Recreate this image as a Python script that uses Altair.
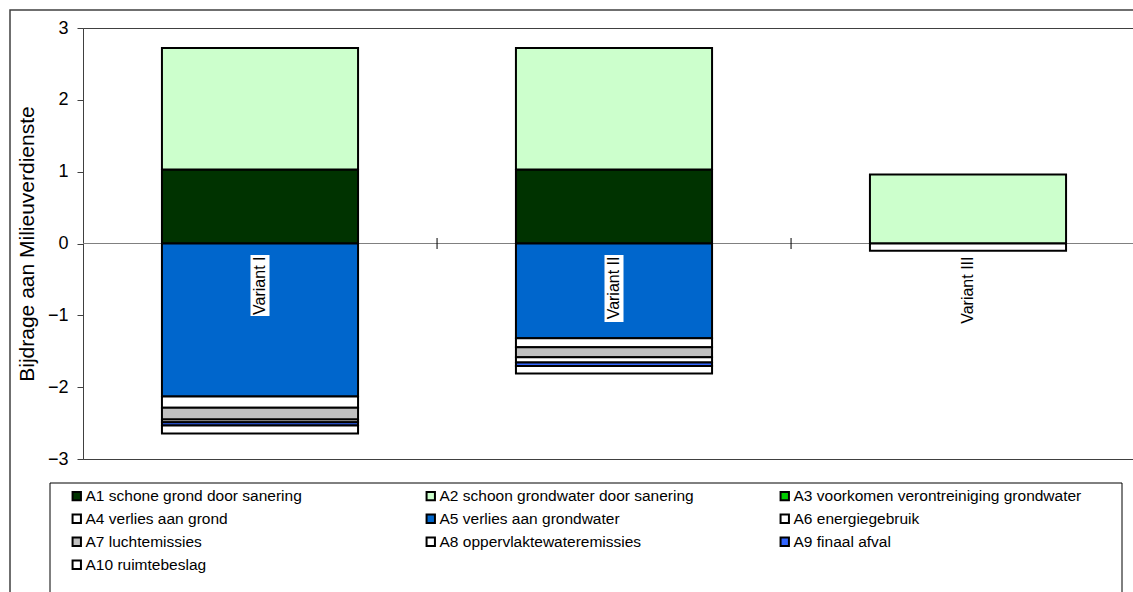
import altair as alt
import pandas as pd

variants = ["Variant I", "Variant II", "Variant III"]
series = [
    "A1 schone grond door sanering",
    "A2 schoon grondwater door sanering",
    "A3 voorkomen verontreiniging grondwater",
    "A4 verlies aan grond",
    "A5 verlies aan grondwater",
    "A6 energiegebruik",
    "A7 luchtemissies",
    "A8 oppervlaktewateremissies",
    "A9 finaal afval",
    "A10 ruimtebeslag",
]
colors = ["#003300", "#CCFFCC", "#00CC00", "#FFFFFF", "#0066CC",
          "#FFFFFF", "#C0C0C0", "#FFFFFF", "#3366FF", "#FFFFFF"]

a1 = [1.03, 1.03, 0.0]
a2 = [1.69, 1.69, 0.96]
a3 = [0.0, 0.0, 0.0]
a4 = [0.0, 0.0, 0.0]
a5 = [-2.13, -1.32, 0.0]
a6 = [-0.155, -0.125, -0.10]
a7 = [-0.165, -0.14, 0.0]
a8 = [-0.04, -0.07, 0.0]
a9 = [-0.045, -0.05, 0.0]
a10 = [-0.11, -0.105, 0.0]
values = [a1, a2, a3, a4, a5, a6, a7, a8, a9, a10]

y_ticks = [-3, -2, -1, 0, 1, 2, 3]

rows = []
for i, (name, vals) in enumerate(zip(series, values)):
    for v, val in zip(variants, vals):
        if val != 0:
            rows.append({"variant": v, "series": name, "idx": i, "value": val})
df = pd.DataFrame(rows)
lab = pd.DataFrame({"variant": variants})
one = pd.DataFrame({"k": [0]})

FONT = "Liberation Sans"

xscale = alt.Scale(domain=variants, range=[0, 1062], paddingInner=0.446, paddingOuter=0.223)
yscale = alt.Scale(domain=[-3, 3], nice=False, zero=False)

outer = alt.Chart(one).mark_rect(fill=None, stroke="#404040", strokeWidth=1.5).encode(
    x=alt.value(-73), x2=alt.value(1200), y=alt.value(-18), y2=alt.value(700)
)
legend_box = alt.Chart(one).mark_rect(fill=None, stroke="black", strokeWidth=1).encode(
    x=alt.value(-33), x2=alt.value(1039), y=alt.value(455), y2=alt.value(700)
)

zero = alt.Chart(one).mark_rule(color="#808080", strokeWidth=1).encode(
    y=alt.datum(0, scale=yscale)
)

bars = alt.Chart(df).mark_bar(stroke="black", strokeWidth=2).encode(
    x=alt.X("variant:N", scale=xscale, sort=variants, axis=None),
    y=alt.Y("value:Q", scale=yscale, stack="zero",
            axis=alt.Axis(values=y_ticks, format="d", title="Bijdrage aan Milieuverdienste",
                          grid=False, tickSize=6, tickColor="#404040", domainColor="#404040",
                          labelFontSize=18, labelColor="black", labelPadding=9,
                          titleFontSize=21, titleFontWeight="normal", titleColor="black",
                          titlePadding=10, labelFont=FONT, titleFont=FONT)),
    color=alt.Color("series:N", scale=alt.Scale(domain=series, range=colors),
                    legend=alt.Legend(orient="none", legendX=-14, legendY=460, columns=3,
                                      direction="horizontal",
                                      title=None, symbolType="square", symbolSize=70,
                                      symbolStrokeColor="black", symbolStrokeWidth=2,
                                      labelFontSize=15.5, labelFont=FONT, labelColor="black",
                                      columnPadding=48, rowPadding=5, gridAlign="all",
                                      labelLimit=400, padding=0, labelOffset=1)),
    order=alt.Order("idx:Q", sort="ascending"),
)

# category separator ticks on the zero axis (between the category slots)
sep = alt.Chart(lab).transform_filter(alt.datum.variant != "Variant III").mark_rule(
    color="black", strokeWidth=1, xOffset=79).encode(
    x=alt.X("variant:N", scale=xscale, sort=variants, bandPosition=1, axis=None),
    y=alt.value(210), y2=alt.value(221),
)

bg_one = alt.Chart(lab).transform_filter(alt.datum.variant == "Variant I").mark_bar(
    fill="white", size=19).encode(
    x=alt.X("variant:N", scale=xscale, sort=variants, axis=None),
    y=alt.value(227), y2=alt.value(288),
)
bg_two = alt.Chart(lab).transform_filter(alt.datum.variant == "Variant II").mark_bar(
    fill="white", size=19).encode(
    x=alt.X("variant:N", scale=xscale, sort=variants, axis=None),
    y=alt.value(227), y2=alt.value(294),
)
labels = alt.Chart(lab).mark_text(angle=270, align="right", baseline="middle", dx=-13,
                                  fontSize=16, font=FONT, color="black").encode(
    x=alt.X("variant:N", scale=xscale, sort=variants, axis=None),
    y=alt.datum(0, scale=yscale),
    text="variant:N",
)

chart = alt.layer(outer, legend_box, zero, sep, bars, bg_one, bg_two, labels).properties(
    width=1050, height=431,
    autosize=alt.AutoSizeParams(type="none"),
    padding={"left": 83, "top": 28, "right": 0, "bottom": 133},
).configure(font=FONT).configure_view(stroke="#404040", strokeWidth=1)

chart.save("out.html", embed_options={"renderer": "svg", "actions": False})
